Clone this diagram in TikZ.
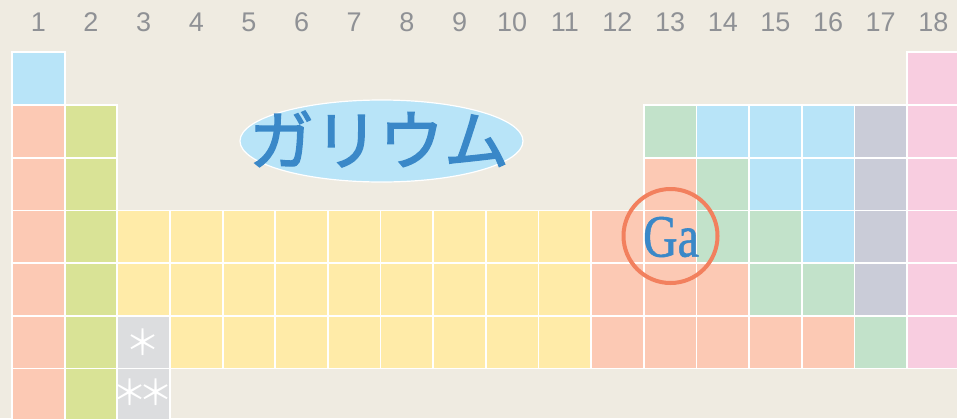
\documentclass[tikz,border=0pt]{standalone}
\usepackage{fontspec}
\setmainfont{Liberation Serif}
\newfontfamily\numfont{Liberation Sans}
\newfontfamily\jpfont{Noto Sans CJK JP}
\newfontfamily\jpfontm[FakeBold=2]{Noto Sans CJK JP}
\newfontfamily\gafont[FakeBold=1]{Liberation Serif}
\usetikzlibrary{shapes.geometric}
\definecolor{bgc}{HTML}{EFEBE1}
\definecolor{cB}{HTML}{B8E4F8}
\definecolor{cS}{HTML}{FCC9B4}
\definecolor{cG}{HTML}{D9E396}
\definecolor{cY}{HTML}{FFEBA8}
\definecolor{cM}{HTML}{C2E2CA}
\definecolor{cV}{HTML}{CACCD8}
\definecolor{cP}{HTML}{F8CDE0}
\definecolor{cA}{HTML}{DCDDDF}
\definecolor{numgray}{HTML}{8F9195}
\definecolor{txtblue}{HTML}{3A88C8}
\definecolor{ringc}{HTML}{F2805E}
\tikzset{
  cellbox/.style={draw=white,line width=1.8pt},
  colnum/.style={font=\numfont\fontsize{27}{27}\selectfont,text=numgray,inner sep=0pt},
  star/.style={font=\jpfont\fontsize{35}{35}\selectfont,text=white,inner sep=0pt},
}
\newcommand{\pcell}[3]{\path[cellbox,fill=#3] ({12+(#1-1)*52.65},{52.3+(#2-1)*52.7}) rectangle ++(52.65,52.7);}
\begin{document}
\begin{tikzpicture}[x=1pt,y=-1pt]
\fill[bgc] (0,0) rectangle (957,418);
\useasboundingbox (0,0) rectangle (957,418);
% column numbers
\foreach \c in {1,...,18}{
  \node[colnum] (n\c) at ({12+(\c-0.5)*52.65},22) {\c};
}
% row 1
\pcell{1}{1}{cB}\pcell{18}{1}{cP}
% rows 2-7, columns 1-2
\foreach \r in {2,...,7}{\pcell{1}{\r}{cS}\pcell{2}{\r}{cG}}
\pcell{18}{2}{cP}\pcell{18}{3}{cP}\pcell{18}{4}{cP}\pcell{18}{5}{cP}\pcell{18}{6}{cP}
% row 2
\pcell{13}{2}{cM}\pcell{14}{2}{cB}\pcell{15}{2}{cB}\pcell{16}{2}{cB}\pcell{17}{2}{cV}
% row 3
\pcell{13}{3}{cS}\pcell{14}{3}{cM}\pcell{15}{3}{cB}\pcell{16}{3}{cB}\pcell{17}{3}{cV}
% row 4
\foreach \c in {3,...,11}{\pcell{\c}{4}{cY}}
\pcell{12}{4}{cS}\pcell{13}{4}{cS}\pcell{14}{4}{cM}\pcell{15}{4}{cM}\pcell{16}{4}{cB}\pcell{17}{4}{cV}
% row 5
\foreach \c in {3,...,11}{\pcell{\c}{5}{cY}}
\pcell{12}{5}{cS}\pcell{13}{5}{cS}\pcell{14}{5}{cS}\pcell{15}{5}{cM}\pcell{16}{5}{cM}\pcell{17}{5}{cV}
% row 6
\pcell{3}{6}{cA}
\foreach \c in {4,...,11}{\pcell{\c}{6}{cY}}
\foreach \c in {12,...,16}{\pcell{\c}{6}{cS}}
\pcell{17}{6}{cM}
% row 7
\pcell{3}{7}{cA}
% asterisks
\node[star] (s1) at (143,342) {＊};
\node[star] (s2) at (143,392) {＊\kern-9pt＊};
% title ellipse
\node[ellipse,draw=white,line width=1.2pt,fill=cB,minimum width=283pt,minimum height=82pt,inner sep=0pt] (title) at (381.5,141) {};
\node[font=\jpfontm\fontsize{65}{65}\selectfont,text=txtblue,inner sep=0pt] (kana) at (379,139) {ガリウム};
% Ga ring
\node[circle,draw=ringc,line width=4pt,minimum size=94pt,inner sep=0pt] (ring) at (670.5,236) {};
\node[font=\gafont\fontsize{60}{60}\selectfont,text=txtblue,inner sep=0pt,xscale=0.8] (ga) at (671,237) {Ga};
\end{tikzpicture}
\end{document}
